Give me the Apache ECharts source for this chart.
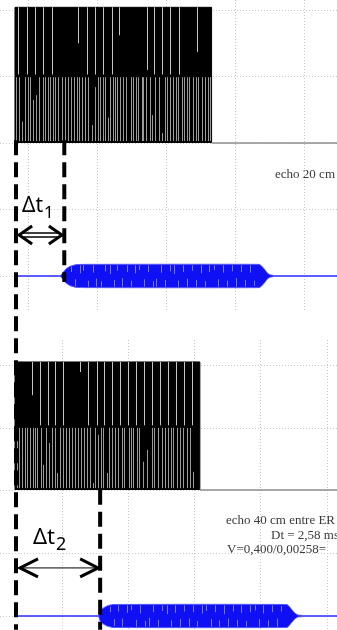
<!DOCTYPE html>
<html>
<head>
<meta charset="utf-8">
<script src="https://cdn.jsdelivr.net/npm/echarts@6/dist/echarts.min.js"></script>
<style>
  html, body { margin: 0; padding: 0; background: #fff; }
  #main { width: 337px; height: 630px; }
</style>
</head>
<body>
<div id="main"></div>
<script>
// time in ms (0 = trigger), emitter channel in V, receiver channel in mV

// ---- top capture (echo 20 cm) ----
const topEmitT = [-0.03, 5.67];
const topEmitHigh = 20.4;
const topUpperGaps = [[0.06, 10.3], [0.32, 10.3], [0.55, 10.3], [0.78, 10.3], [1.04, 10.3], [1.80, 15.0],
  [2.06, 10.3], [2.29, 10.3], [2.52, 10.3], [2.78, 10.3], [2.99, 16.2], [3.80, 11.0], [4.00, 10.3],
  [4.23, 10.3], [4.46, 10.3], [4.72, 10.3], [5.25, 13.7]];
const topLowerGapT = [0.00, 0.09, 0.17, 0.26, 0.34, 0.41, 0.48, 0.58, 0.68, 0.77, 0.85, 0.94, 0.99, 1.06,
  1.13, 1.21, 1.32, 1.42, 1.52, 1.59, 1.68, 1.76, 1.83, 1.90, 2.00, 2.08, 2.19, 2.29, 2.37, 2.43, 2.51,
  2.58, 2.66, 2.72, 2.80, 2.87, 2.94, 3.01, 3.11, 3.19, 3.32, 3.40, 3.48, 3.54, 3.64, 3.69, 3.77, 3.88,
  3.93, 4.03, 4.15, 4.22, 4.32, 4.39, 4.46, 4.56, 4.64, 4.70, 4.80, 4.87, 4.95, 5.02, 5.12, 5.22, 5.28,
  5.38, 5.48, 5.57, 5.62];
const topLowerPartial = [[0.17, 3.2], [0.48, 6.5], [0.58, 7.2], [2.19, 2.7], [2.29, 8.4], [2.66, 3.8],
  [3.93, 4.2], [4.22, 1.5]];
const topRecvStart = -0.06;
const topEchoT = [1.30, 1.36, 1.45, 1.57, 1.74, 2.00, 7.05, 7.12, 7.20, 7.28, 7.36, 7.45];
const topEchoAmp = [1, 5, 10.5, 14.5, 17, 17.5, 17.5, 15, 10.5, 5, 2, 1];
const topEchoStreaks = [[1.59, 14, 6], [1.71, -15, -5], [1.86, 16, 4], [1.94, 16, 8], [2.09, -16, -7],
  [2.23, 16, 5], [2.32, -16, -4], [2.46, -16, -8], [2.58, 16, 7], [2.72, 16, 3], [2.84, -16, -6],
  [2.93, 16, 8], [3.07, -16, -3], [3.22, 16, 6], [3.33, -16, -7], [3.45, 16, 4], [3.57, 16, 9],
  [3.71, -16, -5], [3.83, 16, 6], [3.97, -16, -8], [4.06, -16, -4], [4.20, 16, 5], [4.32, -16, -6],
  [4.46, 16, 7], [4.58, 16, 3], [4.70, -16, -7], [4.84, 16, 6], [4.96, -16, -4], [5.10, 16, 8],
  [5.22, -16, -6], [5.36, 16, 4], [5.48, -16, -8], [5.59, 16, 6], [5.74, 16, 9], [5.86, -16, -5],
  [6.00, 16, 5], [6.12, -16, -7], [6.26, 16, 7], [6.38, -16, -3], [6.52, 16, 6], [6.64, -16, -6],
  [6.78, 16, 5], [6.90, -15, -7]];
// the trigger line (t = 0) runs down through both captures
const topMarkerT = [0, 1.40];
const topArrow = [0.09, 1.33, 61.7];

// ---- bottom capture (echo 40 cm) ----
const bottomEmitT = [-0.06, 5.52];
const bottomEmitHigh = 20.4;
const bottomUpperGaps = [[0.45, 15.1], [0.69, 10.3], [0.94, 10.3], [1.15, 10.3], [1.39, 10.3], [1.90, 18.8],
  [2.14, 10.3], [2.42, 10.3], [2.63, 10.3], [2.87, 10.3], [3.11, 10.3], [3.35, 10.3], [3.59, 10.3],
  [3.83, 10.3], [4.08, 10.3], [4.32, 10.3], [4.56, 10.3], [4.80, 10.3], [5.04, 10.3], [5.28, 10.3]];
const bottomLowerGapT = [-0.01, 0.07, 0.14, 0.24, 0.31, 0.39, 0.47, 0.54, 0.61, 0.72, 0.79, 0.88, 0.98,
  1.05, 1.15, 1.22, 1.30, 1.40, 1.48, 1.58, 1.65, 1.75, 1.85, 1.92, 2.02, 2.10, 2.20, 2.29, 2.35, 2.45,
  2.53, 2.61, 2.71, 2.78, 2.86, 2.96, 3.06, 3.16, 3.24, 3.38, 3.44, 3.51, 3.61, 3.68, 3.81, 3.92, 4.07,
  4.14, 4.25, 4.39, 4.47, 4.55, 4.65, 4.72, 4.82, 4.92, 5.02, 5.12, 5.22, 5.32];
const bottomLowerPartial = [[0.79, 4.0], [0.98, 7.5], [1.22, 2.7], [2.29, 1.1], [2.45, 8.8], [2.71, 2.7],
  [3.81, 4.5], [3.92, 6.4], [5.32, 2.9]];
const bottomRecvStart = 0.0;
const bottomEchoT = [2.47, 2.51, 2.60, 2.72, 2.90, 8.15, 8.22, 8.30, 8.38, 8.48, 8.60];
const bottomEchoAmp = [1, 8, 12.5, 16, 18.3, 18.3, 15, 10, 5, 1.5, 1];
const bottomEchoStreaks = [[2.80, 15, 6], [2.93, -16, -5], [3.05, 17, 7], [3.17, -17, -4], [3.32, 17, 5],
  [3.44, 17, 9], [3.59, -17, -6], [3.71, 17, 4], [3.86, -17, -8], [3.98, -17, -3], [4.11, 17, 6],
  [4.26, -17, -6], [4.38, 17, 8], [4.53, 17, 3], [4.65, -17, -7], [4.77, 17, 5], [4.92, -17, -5],
  [5.04, 17, 7], [5.19, -17, -4], [5.31, 17, 6], [5.43, -17, -8], [5.58, 17, 4], [5.71, 17, 8],
  [5.86, -17, -5], [5.98, 17, 6], [6.10, -17, -7], [6.25, 17, 3], [6.37, -17, -4], [6.52, 17, 7],
  [6.64, -17, -6], [6.76, 17, 5], [6.91, -17, -8], [7.03, 17, 6], [7.18, 17, 9], [7.31, -17, -5],
  [7.43, 17, 4], [7.58, -17, -7], [7.70, 17, 6], [7.85, -17, -4], [7.97, 16, 7]];
const bottomMarkerT = [2.51];
const bottomArrow = [0.09, 2.45, 76.6];

const chart = echarts.init(document.getElementById('main'));

const dotted = { color: '#c9c9c9', type: [1, 2], width: 1 };
const off = { show: false };
function dataAxis(grid, min, max) {
  return { type: 'value', gridIndex: grid, min: min, max: max, show: false, splitLine: off };
}
// screen graticule, in divisions
function divAxis(grid, max, showMax) {
  return { type: 'value', gridIndex: grid, min: 0, max: max, interval: 1,
    axisLine: off, axisTick: off, axisLabel: off,
    splitLine: { show: true, showMinLine: true, showMaxLine: showMax, lineStyle: dotted } };
}

function renderVLine(params, api) {
  const x = Math.round(api.coord([api.value(0), 0])[0]) + 0.5;
  const y1 = api.coord([api.value(0), api.value(1)])[1];
  const y2 = api.coord([api.value(0), api.value(2)])[1];
  return {
    type: 'line',
    shape: { x1: x, y1: y1, x2: x, y2: y2 },
    style: { stroke: api.visual('color'), lineWidth: 1 }
  };
}

function bandRenderer(ts, amps) {
  return function (params, api) {
    const pts = [];
    ts.forEach((t, i) => pts.push(api.coord([t, amps[i]])));
    for (let i = ts.length - 1; i >= 0; i--) pts.push(api.coord([ts[i], -amps[i]]));
    return {
      type: 'polygon',
      shape: { points: pts, smooth: 0.15 },
      style: { fill: api.visual('color'), stroke: '#5a5aff', lineWidth: 1 }
    };
  };
}

function arrowRenderer(double, head) {
  return function (params, api) {
    const a = api.coord([api.value(0), api.value(2)]);
    const b = api.coord([api.value(1), api.value(2)]);
    const kids = [];
    if (double) {
      kids.push({ type: 'line', shape: { x1: a[0] + 3, y1: a[1] - 2, x2: b[0] - 3, y2: b[1] - 2 }, style: { stroke: '#000', lineWidth: 1.5 } });
      kids.push({ type: 'line', shape: { x1: a[0] + 3, y1: a[1] + 2, x2: b[0] - 3, y2: b[1] + 2 }, style: { stroke: '#000', lineWidth: 1.5 } });
    } else {
      kids.push({ type: 'line', shape: { x1: a[0], y1: a[1], x2: b[0], y2: b[1] }, style: { stroke: '#000', lineWidth: 1 } });
    }
    kids.push({ type: 'polyline', shape: { points: [[a[0] + head[0], a[1] - head[1]], [a[0], a[1]], [a[0] + head[0], a[1] + head[1]]] },
      style: { stroke: '#000', lineWidth: head[2], fill: null } });
    kids.push({ type: 'polyline', shape: { points: [[b[0] - head[0], b[1] - head[1]], [b[0], b[1]], [b[0] - head[0], b[1] + head[1]]] },
      style: { stroke: '#000', lineWidth: head[2], fill: null } });
    return { type: 'group', children: kids };
  };
}

function panelSeries(p, c) {
  const xi = p, ye = 2 * p, yr = 2 * p + 1;
  const lower = c.lowerT.map(t => {
    const q = c.partial.find(d => d[0] === t);
    return [t, q ? q[1] : 9.9, 0.3];
  });
  const list = [
    { type: 'line', xAxisIndex: xi, yAxisIndex: ye, symbol: 'none', z: 2,
      data: [[c.emitT[0], 0], [c.emitT[0], c.high], [c.emitT[1], c.high], [c.emitT[1], 0]],
      lineStyle: { color: '#000', width: 1 }, areaStyle: { color: '#000', opacity: 1 } },
    { type: 'line', xAxisIndex: xi, yAxisIndex: ye, symbol: 'none', z: 2,
      data: [[c.emitT[1], 0], [c.tMax, 0]], lineStyle: { color: '#8c8c8c', width: 1.5 } },
    { type: 'custom', xAxisIndex: xi, yAxisIndex: ye, z: 3, renderItem: renderVLine,
      itemStyle: { color: '#c6c6c6' }, data: c.upper.map(d => [d[0], c.high, d[1]]) },
    { type: 'custom', xAxisIndex: xi, yAxisIndex: ye, z: 3, renderItem: renderVLine,
      itemStyle: { color: '#9b9b9b' }, data: lower },
    { type: 'line', xAxisIndex: xi, yAxisIndex: yr, symbol: 'none', z: 2,
      data: [[c.recvStart, 0], [c.tMax, 0]], lineStyle: { color: '#2b2bff', width: 1.5 } },
    { type: 'custom', xAxisIndex: xi, yAxisIndex: yr, z: 3, renderItem: bandRenderer(c.echoT, c.echoAmp),
      itemStyle: { color: '#1010f4' }, data: [[c.echoT[0], 0]] },
    { type: 'custom', xAxisIndex: xi, yAxisIndex: yr, z: 4, renderItem: renderVLine,
      itemStyle: { color: '#7a7aff' }, data: c.streaks },
    { type: 'custom', xAxisIndex: xi, yAxisIndex: yr, z: 6, renderItem: arrowRenderer(c.double, c.head),
      data: [c.arrow] }
  ];
  c.markerT.forEach((t, i) => {
    list.push({ type: 'line', xAxisIndex: xi, yAxisIndex: yr, symbol: 'none', z: 5,
      data: [[t, c.span[i][0]], [t, c.span[i][1]]],
      lineStyle: { color: '#000', width: 4, type: [15, 7] } });
  });
  return list;
}

const option = {
  animation: false,
  backgroundColor: '#fff',
  grid: [
    { left: 0, right: 0, top: 0, bottom: 0 },       // top capture data (trigger line runs to the bottom)
    { left: 0, right: 0, top: 340, bottom: 0 },     // bottom capture data
    { left: 28, right: 0, top: 0, bottom: 320 },    // top vertical graticule
    { left: 0, right: 0, top: 10, bottom: 354 },    // top horizontal graticule
    { left: 62, right: 0, top: 340, bottom: 0 },    // bottom vertical graticule
    { left: 0, right: 0, top: 365, bottom: 14 }     // bottom horizontal graticule
  ],
  xAxis: [
    dataAxis(0, -0.464, 9.306),
    dataAxis(1, -0.513, 9.66),
    divAxis(2, 4.478, false),
    dataAxis(3, 0, 1),
    divAxis(4, 4.151, false),
    dataAxis(5, 0, 1)
  ],
  yAxis: [
    dataAxis(0, -73.2, 21.5),
    dataAxis(0, -532.3, 415),
    dataAxis(1, -22.31, 23.9),
    dataAxis(1, -22.3, 439.8),
    dataAxis(2, 0, 1),
    divAxis(3, 4, true),
    dataAxis(4, 0, 1),
    divAxis(5, 4, true)
  ],
  series: [].concat(
    panelSeries(0, { emitT: topEmitT, high: topEmitHigh, upper: topUpperGaps, lowerT: topLowerGapT,
      partial: topLowerPartial, recvStart: topRecvStart, echoT: topEchoT, echoAmp: topEchoAmp,
      streaks: topEchoStreaks, tMax: 9.306, markerT: topMarkerT, span: [[204, -532], [204, -9]],
      arrow: topArrow, double: true, head: [13, 9, 3] }),
    panelSeries(1, { emitT: bottomEmitT, high: bottomEmitHigh, upper: bottomUpperGaps, lowerT: bottomLowerGapT,
      partial: bottomLowerPartial, recvStart: bottomRecvStart, echoT: bottomEchoT, echoAmp: bottomEchoAmp,
      streaks: bottomEchoStreaks, tMax: 9.66, markerT: bottomMarkerT, span: [[201, -22]],
      arrow: bottomArrow, double: false, head: [18, 9, 3] })
  ),
  graphic: [
    { type: 'text', x: 335, y: 175, z: 10, style: { text: 'echo 20 cm', font: '13px "Liberation Serif"', fill: '#3a3a3a', align: 'right', verticalAlign: 'middle' } },
    { type: 'text', x: 226, y: 521, z: 10, style: { text: 'echo 40 cm entre ER', font: '13px "Liberation Serif"', fill: '#3a3a3a', verticalAlign: 'middle' } },
    { type: 'text', x: 271, y: 536, z: 10, style: { text: 'Dt = 2,58 ms', font: '13px "Liberation Serif"', fill: '#3a3a3a', verticalAlign: 'middle' } },
    { type: 'text', x: 227, y: 550, z: 10, style: { text: 'V=0,400/0,00258=', font: '13px "Liberation Serif"', fill: '#3a3a3a', verticalAlign: 'middle' } },
    { type: 'text', x: 22, y: 206, z: 10, style: { text: 'Δt', font: '21px "Noto Sans"', fill: '#000', verticalAlign: 'middle' } },
    { type: 'text', x: 44, y: 213, z: 10, style: { text: '1', font: '17px "Noto Sans"', fill: '#000', verticalAlign: 'middle' } },
    { type: 'text', x: 33, y: 538, z: 10, style: { text: 'Δt', font: '22px "Noto Sans"', fill: '#000', verticalAlign: 'middle' } },
    { type: 'text', x: 56, y: 545, z: 10, style: { text: '2', font: '18px "Noto Sans"', fill: '#000', verticalAlign: 'middle' } }
  ]
};

chart.setOption(option);
</script>
</body>
</html>
